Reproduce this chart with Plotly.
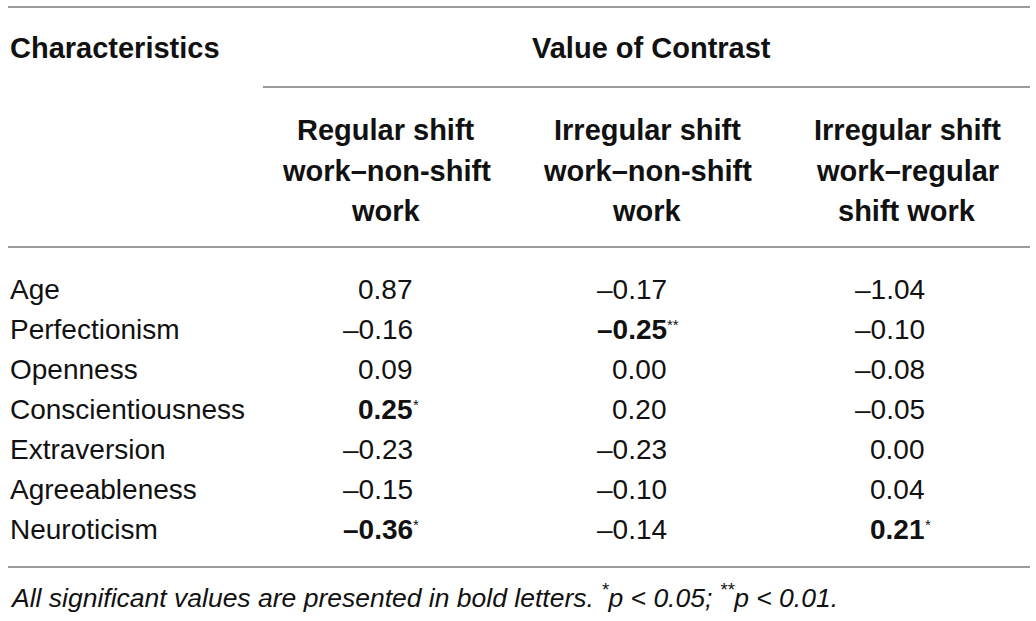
import plotly.graph_objects as go

# table content
characteristics = ["Age", "Perfectionism", "Openness", "Conscientiousness",
                   "Extraversion", "Agreeableness", "Neuroticism"]
column_titles = [["Regular shift", "work–non-shift", "work"],
                 ["Irregular shift", "work–non-shift", "work"],
                 ["Irregular shift", "work–regular", "shift work"]]
regular_vs_non = [0.87, -0.16, 0.09, 0.25, -0.23, -0.15, -0.36]
irregular_vs_non = [-0.17, -0.25, 0.00, 0.20, -0.23, -0.10, -0.14]
irregular_vs_regular = [-1.04, -0.10, -0.08, -0.05, 0.00, 0.04, 0.21]
sig_regular_vs_non = ["", "", "", "*", "", "", "*"]
sig_irregular_vs_non = ["", "**", "", "", "", "", ""]
sig_irregular_vs_regular = ["", "", "", "", "", "", "*"]
note = "All significant values are presented in bold letters. <sup>*</sup>p < 0.05; <sup>**</sup>p < 0.01."

W, H = 1036, 621
FONT = "Liberation Sans, Arial, Helvetica, sans-serif"
LINE = "#9b9b9b"

# layout of the grid (pixels)
left, right = 8, 1030
row_y0, row_step = 289, 40
title_y = [130, 171, 211]
col_centers = [386, 647, 907]
col_edges = [415, 669, 927]

fig = go.Figure()
ann = []

ann.append(dict(x=left, y=48, text="<b>Characteristics</b>", xanchor="left",
                font=dict(size=29)))
ann.append(dict(x=651, y=48, text="<b>Value of Contrast</b>", xanchor="center",
                font=dict(size=29)))
for cx, title in zip(col_centers, column_titles):
    for ty, line in zip(title_y, title):
        ann.append(dict(x=cx, y=ty, text="<b>" + line + "</b>", xanchor="center",
                        font=dict(size=29)))

columns = [(regular_vs_non, sig_regular_vs_non),
           (irregular_vs_non, sig_irregular_vs_non),
           (irregular_vs_regular, sig_irregular_vs_regular)]

for i, name in enumerate(characteristics):
    y = row_y0 + i * row_step
    ann.append(dict(x=left, y=y, text=name, xanchor="left", font=dict(size=28)))
    for edge, (vals, sig) in zip(col_edges, columns):
        txt = f"{vals[i]:.2f}".replace("-", "–")
        if sig[i]:
            txt = "<b>" + txt + "</b>"
            ann.append(dict(x=edge - 4, y=y - 5, text=sig[i], xanchor="left",
                            font=dict(size=15)))
        ann.append(dict(x=edge, y=y, text=txt, xanchor="right", font=dict(size=28)))

ann.append(dict(x=left, y=596, text="<i>" + note + "</i>", xanchor="left",
                font=dict(size=26.5)))

for a in ann:
    a.update(xref="x", yref="y", showarrow=False, yanchor="middle")
    a["font"].update(family=FONT, color="#111111")

shapes = []
for y0, x0 in [(7, left), (87, 263), (247, left), (567, left)]:
    shapes.append(dict(type="line", xref="x", yref="y", x0=x0, x1=right, y0=y0, y1=y0,
                       line=dict(color=LINE, width=2)))

fig.update_layout(
    width=W, height=H,
    margin=dict(l=0, r=0, t=0, b=0),
    paper_bgcolor="white", plot_bgcolor="white",
    xaxis=dict(range=[0, W], visible=False, fixedrange=True),
    yaxis=dict(range=[H, 0], visible=False, fixedrange=True),
    annotations=ann, shapes=shapes, showlegend=False,
)

# drop the page's default body margin so the figure sits at the window corner
fig.write_html("out.html", post_script="document.body.style.margin = '0';",
               config={"displayModeBar": False})
